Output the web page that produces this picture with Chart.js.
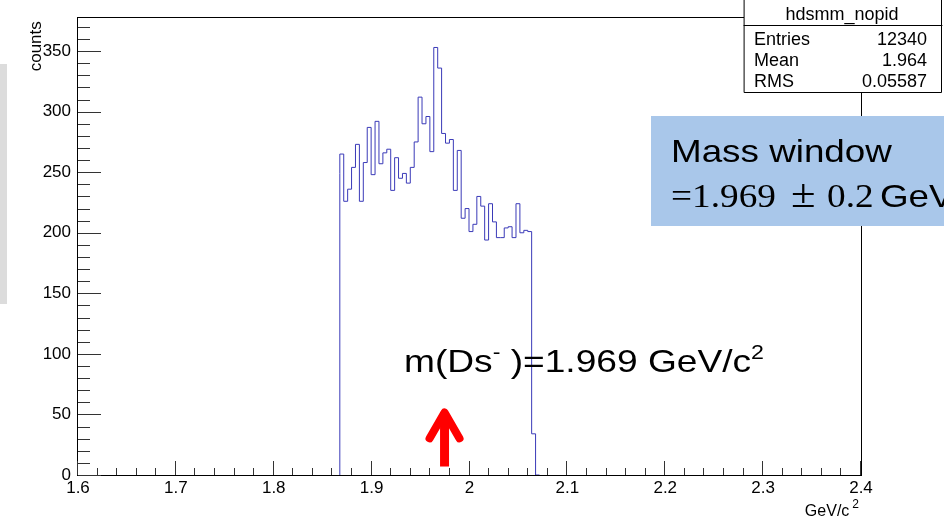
<!DOCTYPE html>
<html><head><meta charset="utf-8">
<script src="https://cdn.jsdelivr.net/npm/chart.js@4.4.0/dist/chart.umd.min.js"></script>
<style>
html,body{margin:0;padding:0;background:#fff;overflow:hidden}
canvas{display:block}
</style></head>
<body>
<canvas id="c" width="944" height="519"></canvas>
<script>
// ---- data ----
const histName = "hdsmm_nopid";
const binLowEdge = 1.8675;  // GeV/c^2, low edge of first filled bin
const binWidth = 0.004;     // GeV/c^2
const counts = [249,265,226,236,254,273,226,258,287,248,
                292,257,266,269,235,262,245,249,241,254,
                275,312,290,296,267,353,336,282,274,277,
                235,268,212,220,201,207,230,222,194,224,
                209,196,196,204,205,196,224,200,202,201,
                34];
const xTickValues = [1.6,1.7,1.8,1.9,2.0,2.1,2.2,2.3,2.4];
const yTickValues = [0,50,100,150,200,250,300,350];
const statsLabels = ["Entries","Mean","RMS"];
const statsValues = ["12340","1.964","0.05587"];
const xTitle = ["GeV/c","2"];
const yTitle = "counts";
const arrowX = 1.9745;
const arrowFromY = 7;
const arrowToY = 55;

// ---- build points ----
const pts = [{x: binLowEdge, y: 0}];
counts.forEach((c, i) => pts.push({x: binLowEdge + i * binWidth, y: c}));
pts.push({x: binLowEdge + counts.length * binWidth, y: 0});

const FONT = "'Liberation Sans', Arial, sans-serif";
const SERIF = "'Liberation Serif', 'DejaVu Serif', serif";

function drawRuns(ctx, x, y, runs, sx) {
  ctx.save();
  ctx.translate(x, y);
  ctx.scale(sx, 1);
  let cx = 0;
  for (const r of runs) {
    ctx.font = r.font;
    ctx.fillStyle = r.color || '#000';
    ctx.textBaseline = 'alphabetic';
    ctx.textAlign = 'left';
    ctx.fillText(r.t, cx, -(r.rise || 0));
    cx += ctx.measureText(r.t).width;
  }
  ctx.restore();
}
function drawAt(ctx, x, y, t, font, sx) {
  ctx.save();
  ctx.translate(x, y);
  ctx.scale(sx, 1);
  ctx.font = font;
  ctx.fillStyle = '#000';
  ctx.textAlign = 'left';
  ctx.textBaseline = 'alphabetic';
  ctx.fillText(t, 0, 0);
  ctx.restore();
}

const rootPlugin = {
  id: 'rootStyle',
  beforeDraw(chart) {
    const ctx = chart.ctx;
    ctx.save();
    ctx.fillStyle = '#ffffff';
    ctx.fillRect(0, 0, chart.width, chart.height);
    ctx.fillStyle = '#dcdcdc';
    ctx.fillRect(0, 64, 7, 240);
    ctx.restore();
  },
  afterDraw(chart) {
    const ctx = chart.ctx;
    const a = chart.chartArea;
    const xs = chart.scales.x, ys = chart.scales.y;
    ctx.save();
    // frame
    ctx.strokeStyle = '#000';
    ctx.lineWidth = 1;
    ctx.strokeRect(Math.round(a.left) - 0.5, Math.round(a.top) + 0.5,
                   Math.round(a.right - a.left) + 1, Math.round(a.bottom - a.top));
    // y ticks (inward)
    ctx.strokeStyle = '#333';
    ctx.beginPath();
    for (let v = 0; v <= ys.max; v += 10) {
      const py = Math.round(ys.getPixelForValue(v)) + 0.5;
      const len = (v % 50 === 0) ? 23 : 12;
      ctx.moveTo(a.left, py); ctx.lineTo(a.left + len, py);
    }
    // x ticks (inward)
    for (let k = 0; k <= 40; k++) {
      const v = xs.min + k * 0.02;
      const px = Math.round(xs.getPixelForValue(v)) - 0.5;
      const len = (k % 5 === 0) ? 14 : 7;
      ctx.moveTo(px, a.bottom); ctx.lineTo(px, a.bottom - len);
    }
    ctx.stroke();

    // axis titles
    ctx.fillStyle = '#000';
    ctx.font = '17px ' + FONT;
    ctx.save();
    ctx.translate(41, a.top + 4);
    ctx.rotate(-Math.PI / 2);
    ctx.textAlign = 'right';
    ctx.textBaseline = 'alphabetic';
    ctx.fillText(yTitle, 0, 0);
    ctx.restore();
    ctx.textAlign = 'right';
    ctx.textBaseline = 'alphabetic';
    ctx.font = '12px ' + FONT;
    const supW = ctx.measureText(xTitle[1]).width;
    ctx.fillText(xTitle[1], a.right - 2, 508);
    ctx.font = '16px ' + FONT;
    ctx.fillText(xTitle[0], a.right - supW - 5, 516);

    // red arrow
    const axp = xs.getPixelForValue(arrowX);
    const y0 = ys.getPixelForValue(arrowFromY);
    const y1 = ys.getPixelForValue(arrowToY);
    ctx.strokeStyle = '#ff0000';
    ctx.lineWidth = 9;
    ctx.lineCap = 'butt';
    ctx.beginPath(); ctx.moveTo(axp, y0); ctx.lineTo(axp, y1 + 5); ctx.stroke();
    ctx.lineWidth = 8;
    ctx.lineJoin = 'round';
    ctx.lineCap = 'round';
    ctx.beginPath();
    ctx.moveTo(axp - 15, y1 + 30); ctx.lineTo(axp, y1 + 4); ctx.lineTo(axp + 15, y1 + 30);
    ctx.stroke();

    // m(Ds-) label
    const big = '32px ' + FONT, sup = '20px ' + FONT;
    drawRuns(ctx, 404, 372, [
      {t: 'm(Ds', font: big},
      {t: '-', font: sup, rise: 13},
      {t: ' )=1.969 GeV/c', font: big},
      {t: '2', font: sup, rise: 13}
    ], 1.16);

    // mass window box
    ctx.fillStyle = '#a9c7ea';
    ctx.fillRect(651, 116, 944 - 651, 110);
    drawAt(ctx, 671, 162, 'Mass window', big, 1.15);
    drawAt(ctx, 671, 207, '=1.969', '33px ' + SERIF, 1.13);
    drawAt(ctx, 791, 207, '\u00B1', '40px ' + SERIF, 1.12);
    drawAt(ctx, 827, 207, '0.2', '33px ' + SERIF, 1.13);
    drawAt(ctx, 880, 207, 'GeV/c', big, 1.15);

    // stats box
    ctx.fillStyle = '#fff';
    ctx.fillRect(744, 0, 198, 93);
    ctx.strokeStyle = '#000';
    ctx.lineWidth = 1;
    ctx.strokeRect(744.5, -1, 197, 93.5);
    ctx.beginPath(); ctx.moveTo(744, 25.5); ctx.lineTo(942, 25.5); ctx.stroke();
    ctx.fillStyle = '#000';
    ctx.font = '18px ' + FONT;
    ctx.textAlign = 'center';
    ctx.fillText(histName, 842, 20);
    const rows = [45, 66, 87];
    statsLabels.forEach((l, i) => {
      ctx.textAlign = 'left'; ctx.fillText(l, 754, rows[i]);
      ctx.textAlign = 'right'; ctx.fillText(statsValues[i], 927, rows[i]);
    });
    ctx.restore();
  }
};

new Chart(document.getElementById('c'), {
  type: 'line',
  data: {
    datasets: [{
      label: histName,
      data: pts,
      stepped: 'after',
      borderColor: '#3a3ab8',
      borderWidth: 1,
      pointRadius: 0,
      fill: false,
      tension: 0
    }]
  },
  options: {
    responsive: false,
    animation: false,
    devicePixelRatio: 1,
    layout: {padding: {left: 0, right: 83, top: 14, bottom: 0}},
    plugins: {legend: {display: false}, tooltip: {enabled: false}},
    scales: {
      x: {
        type: 'linear', min: 1.6, max: 2.4,
        afterBuildTicks: s => { s.ticks = xTickValues.map(v => ({value: v})); },
        afterFit: s => { s.height = 44; },
        grid: {display: false, drawTicks: false, tickLength: 0},
        border: {display: false},
        ticks: {color: '#000', font: {family: FONT, size: 17}, padding: 3,
                maxRotation: 0, autoSkip: false,
                callback: v => String(Math.round(v * 10) / 10)}
      },
      y: {
        type: 'linear', min: 0, max: 378,
        afterBuildTicks: s => { s.ticks = yTickValues.map(v => ({value: v})); },
        afterFit: s => { s.width = 78; },
        grid: {display: false, drawTicks: false, tickLength: 0},
        border: {display: false},
        ticks: {color: '#000', font: {family: FONT, size: 17}, padding: 7}
      }
    }
  },
  plugins: [rootPlugin]
});
</script>
</body></html>
